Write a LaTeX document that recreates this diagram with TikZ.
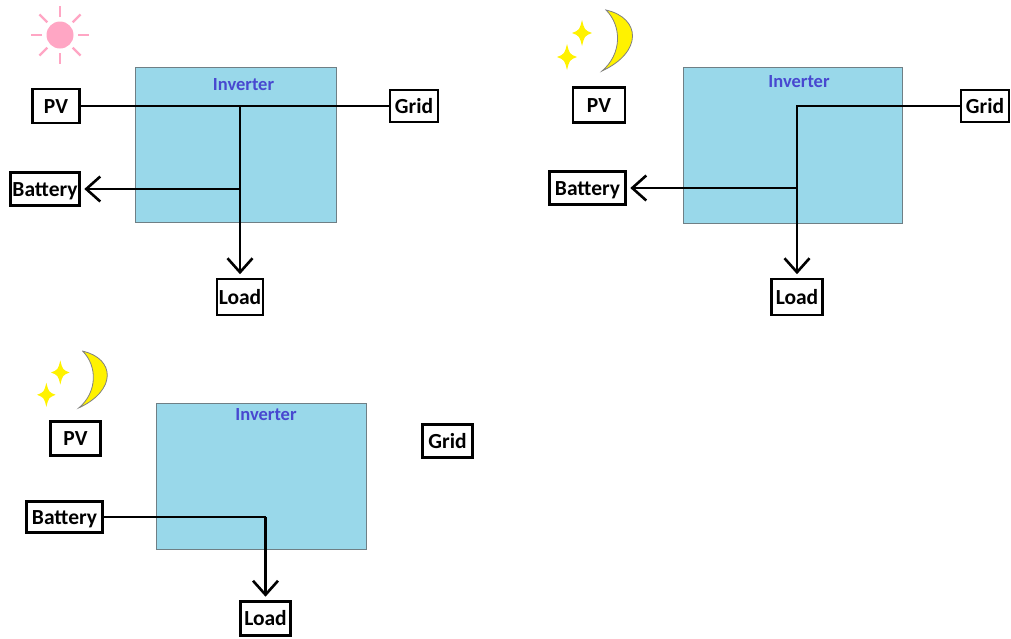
\documentclass[tikz,border=0pt]{standalone}
\usepackage{fontspec}
\setmainfont{Carlito}
\usetikzlibrary{arrows.meta}
\definecolor{panel}{HTML}{99D8EA}
\definecolor{panelline}{HTML}{6F7F85}
\definecolor{label}{HTML}{4848D0}
\definecolor{sunpink}{HTML}{FFA6C4}
\definecolor{moonyellow}{HTML}{FFF200}
\begin{document}
\begin{tikzpicture}[x=1pt,y=-1pt,every node/.style={align=center,font=\fontsize{21.5}{23}\selectfont\bfseries},
 box/.style={draw=black,fill=white,line width=2.6pt,inner sep=0pt,text height=14pt,text depth=0pt},
 inverter/.style={draw=panelline,fill=panel,line width=1pt,inner sep=0pt},
 title/.style={text=label,font=\fontsize{18.5}{20}\selectfont\bfseries},
 wire/.style={black,line width=2.6pt},
 arr/.style={-{Straight Barb[length=14pt,width=25pt]},black,line width=2.6pt,shorten >=3.5pt},
 night/.pic={
  \draw[line width=.8pt,fill=moonyellow,draw=gray] (-9,-30) .. controls (26,-22) and (28,12) .. (-13,31) .. controls (7,14) and (7,-14) .. cycle;
  \foreach \sx/\sy in {-33/-7,-48/17}
   \fill[moonyellow,shift={(\sx,\sy)}] (0,-13) .. controls (2.5,-3) .. (10,0) .. controls (2.5,3) .. (0,13) .. controls (-2.5,3) .. (-10,0) .. controls (-2.5,-3) .. cycle;
 }]
\useasboundingbox (0,0) rectangle (1011,638);
% sun
\fill[sunpink] (60,35) circle (13.5);
\foreach \a in {0,45,...,315}
 \draw[sunpink,line width=2.4pt] (60,35)++(\a:18) -- ++(\a:11);
% day
\node[inverter,minimum width=201pt,minimum height=155pt] (inva) at (235.5,144.5) {};
\node[title] (titlea) at (243.5,85) {Inverter};
\node[box,minimum width=47pt,minimum height=34pt] (pva) at (56,106) {PV};
\node[box,minimum width=48pt,minimum height=32pt] (grida) at (414,106) {Grid};
\node[box,minimum width=69pt,minimum height=33pt] (bata) at (45,189) {Battery};
\node[box,minimum width=46pt,minimum height=36pt] (loada) at (240,297) {Load};
\coordinate (topa) at (240,106);
\coordinate (mida) at (240,189);
\draw[wire] (pva.east) -- (grida.west);
\draw[wire] (topa) -- (mida);
\draw[arr] (mida) -- (bata.east);
\draw[arr] (mida) -- (loada.north);
% night, grid
\pic at (615,40) {night};
\node[inverter,minimum width=219pt,minimum height=156pt] (invb) at (792.5,145) {};
\node[title] (titleb) at (799,82) {Inverter};
\node[box,minimum width=52pt,minimum height=35pt] (pvb) at (599,105) {PV};
\node[box,minimum width=48pt,minimum height=32pt] (gridb) at (985,106) {Grid};
\node[box,minimum width=76pt,minimum height=33pt] (batb) at (587.5,188) {Battery};
\node[box,minimum width=51pt,minimum height=36pt] (loadb) at (797,297) {Load};
\coordinate (topb) at (797,106);
\coordinate (midb) at (797,188);
\draw[wire] (gridb.west) -- (topb) -- (midb);
\draw[arr] (midb) -- (batb.east);
\draw[arr] (midb) -- (loadb.north);
% night, battery
\pic[scale=.93] at (91,379) {night};
\node[inverter,minimum width=210pt,minimum height=146pt] (invc) at (261,476) {};
\node[title] (titlec) at (266,415) {Inverter};
\node[box,minimum width=50pt,minimum height=34pt] (pvc) at (75.5,438.5) {PV};
\node[box,minimum width=50pt,minimum height=33pt] (gridc) at (447.5,441) {Grid};
\node[box,minimum width=76pt,minimum height=31pt] (batc) at (64.5,517) {Battery};
\node[box,minimum width=50pt,minimum height=34pt] (loadc) at (265.5,618.5) {Load};
\coordinate (midc) at (265.5,517);
\draw[wire] (batc.east) -- (midc);
\draw[arr] (midc) -- (loadc.north);
\end{tikzpicture}
\end{document}
